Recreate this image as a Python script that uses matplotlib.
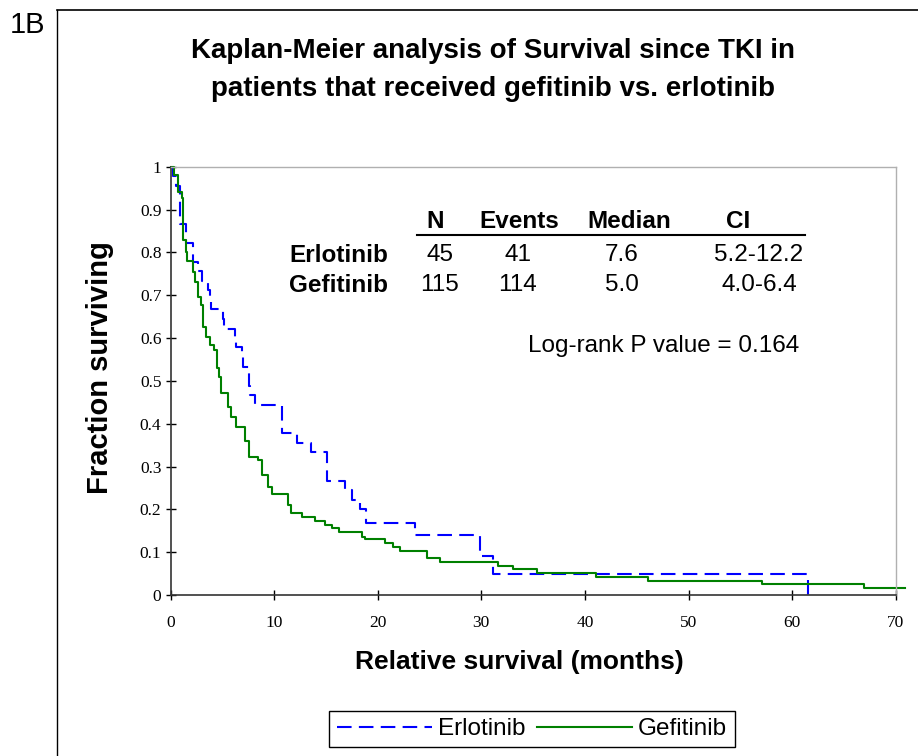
import matplotlib
matplotlib.use("Agg")
import matplotlib.pyplot as plt
from matplotlib.lines import Line2D

# Kaplan-Meier step data (time in months, fraction surviving)
erl_t = [0, 0.27, 0.53, 0.92, 1.45, 2.17, 2.69, 3.04, 3.62, 3.82, 3.91, 5.02, 5.2, 6.23, 6.3,
         6.91, 7.0, 7.6, 7.7, 8.15, 10.8, 12.25, 13.55, 15.12, 16.86, 17.5, 18.3, 18.9,
         23.6, 29.9, 31.1, 61.5]
erl_s = [1.0, 0.978, 0.956, 0.867, 0.822, 0.778, 0.756, 0.733, 0.711, 0.689, 0.667, 0.644,
         0.622, 0.6, 0.578, 0.556, 0.533, 0.489, 0.467, 0.444, 0.378, 0.356, 0.333, 0.267,
         0.244, 0.222, 0.2, 0.167, 0.14, 0.092, 0.049, 0.0]

gef_t = [0, 0.34, 0.75, 1.11, 1.24, 1.45, 1.6, 2.2, 2.4, 2.7, 2.9, 3.15, 3.45, 3.8, 4.2,
         4.45, 4.7, 4.9, 5.55, 5.8, 6.3, 7.2, 7.6, 8.45, 8.84, 9.42, 9.8, 11.35, 11.64,
         12.68, 13.96, 14.93, 15.6, 16.28, 18.5, 18.8, 20.7, 21.5, 22.2, 24.8, 26.0, 31.6,
         33.1, 35.4, 41.1, 46.1, 57.1, 66.9, 70.9]
gef_s = [1.0, 0.98, 0.94, 0.928, 0.828, 0.8, 0.78, 0.755, 0.73, 0.695, 0.677, 0.626, 0.603,
         0.584, 0.572, 0.53, 0.509, 0.471, 0.439, 0.416, 0.392, 0.36, 0.322, 0.315, 0.28,
         0.252, 0.235, 0.209, 0.191, 0.183, 0.173, 0.163, 0.156, 0.148, 0.136, 0.13, 0.122,
         0.113, 0.103, 0.087, 0.078, 0.068, 0.06, 0.052, 0.043, 0.033, 0.026, 0.017, 0.017]

table_cols = ["N", "Events", "Median", "CI"]
table_rows = ["Erlotinib", "Gefitinib"]
table_vals = [["45", "41", "7.6", "5.2-12.2"],
              ["115", "114", "5.0", "4.0-6.4"]]
pvalue_text = "Log-rank P value = 0.164"

W, H = 918, 756
plt.rcParams['font.family'] = ['Liberation Sans', 'DejaVu Sans']


def px(x, y):
    return x / W, 1 - y / H


fig = plt.figure(figsize=(W / 100, H / 100), dpi=100)
l, b = px(170.5, 595)
r, t = px(895.7, 166.7)
ax = fig.add_axes([l, b, r - l, t - b])

erl_line, = ax.plot(erl_t, erl_s, drawstyle='steps-post', color='#0000ff', lw=1.5,
                    linestyle=(0, (7, 3.5)), label='Erlotinib')
gef_line, = ax.plot(gef_t, gef_s, drawstyle='steps-post', color='#008000', lw=1.5,
                    label='Gefitinib', clip_on=False)

ax.set_xlim(0, 70)
ax.set_ylim(0, 1)
ax.set_xticks(range(0, 71, 10))
ax.set_yticks([i / 10 for i in range(11)])
ax.set_yticklabels(["0", "0.1", "0.2", "0.3", "0.4", "0.5", "0.6", "0.7", "0.8", "0.9", "1"])
for lab in ax.get_xticklabels() + ax.get_yticklabels():
    lab.set_fontfamily('Liberation Serif')
    lab.set_fontsize(12.5)
ax.tick_params(axis='both', direction='inout', length=7, width=1, colors='black')
ax.tick_params(axis='x', pad=11)
ax.tick_params(axis='y', pad=3)
for side in ['left', 'bottom']:
    ax.spines[side].set_color('#333333')
    ax.spines[side].set_linewidth(1.2)
for side in ['top', 'right']:
    ax.spines[side].set_color('#b0b0b0')
    ax.spines[side].set_linewidth(1)

# axis labels
fig.text(*px(519, 662), "Relative survival (months)", fontsize=19, fontweight='bold',
         ha='center', va='center')
fig.text(*px(100, 368), "Fraction surviving", fontsize=21, fontweight='bold',
         ha='center', va='center', rotation=90)

# title and panel label
fig.text(*px(493, 51), "Kaplan-Meier analysis of Survival since TKI in", fontsize=20,
         fontweight='bold', ha='center', va='center')
fig.text(*px(493, 89), "patients that received gefitinib vs. erlotinib", fontsize=20,
         fontweight='bold', ha='center', va='center')
fig.text(*px(28, 25), "1B", fontsize=21, ha='center', va='center')

# outer frame (left and top edges only visible)
fig.add_artist(Line2D([57 / W, 57 / W], [0, 1 - 10 / H], color='black', lw=1,
                      transform=fig.transFigure))
fig.add_artist(Line2D([57 / W, 1], [1 - 10 / H, 1 - 10 / H], color='black', lw=1.2,
                      transform=fig.transFigure))

# summary table
col_x = [435, 519, 629, 738]
row_x = 339
for cx, name in zip(col_x, table_cols):
    fig.text(*px(cx, 221), name, fontsize=17.5, fontweight='bold', ha='center', va='center')
fig.add_artist(Line2D([417 / W, 805 / W], [1 - 234.6 / H] * 2, color='black', lw=1.5,
                      transform=fig.transFigure))
val_x = [440, 518, 622, 759]
for ry, rname, vals in zip([255, 285], table_rows, table_vals):
    fig.text(*px(row_x, ry), rname, fontsize=17.5, fontweight='bold', ha='center', va='center')
    for vx, v in zip(val_x, vals):
        fig.text(*px(vx, ry), v, fontsize=17.5, ha='center', va='center')
fig.text(*px(799, 346), pvalue_text, fontsize=17.5, ha='right', va='center')

# legend
leg = ax.legend(handles=[erl_line, gef_line], loc='center', ncol=2,
                bbox_to_anchor=px(532, 729), bbox_transform=fig.transFigure,
                fontsize=17.5, frameon=True, fancybox=False, framealpha=1,
                edgecolor='black', handlelength=3.9, handletextpad=0.25,
                columnspacing=0.5, borderpad=0.3, borderaxespad=0)
leg.get_frame().set_linewidth(1)

fig.savefig("out.png", dpi=100)
